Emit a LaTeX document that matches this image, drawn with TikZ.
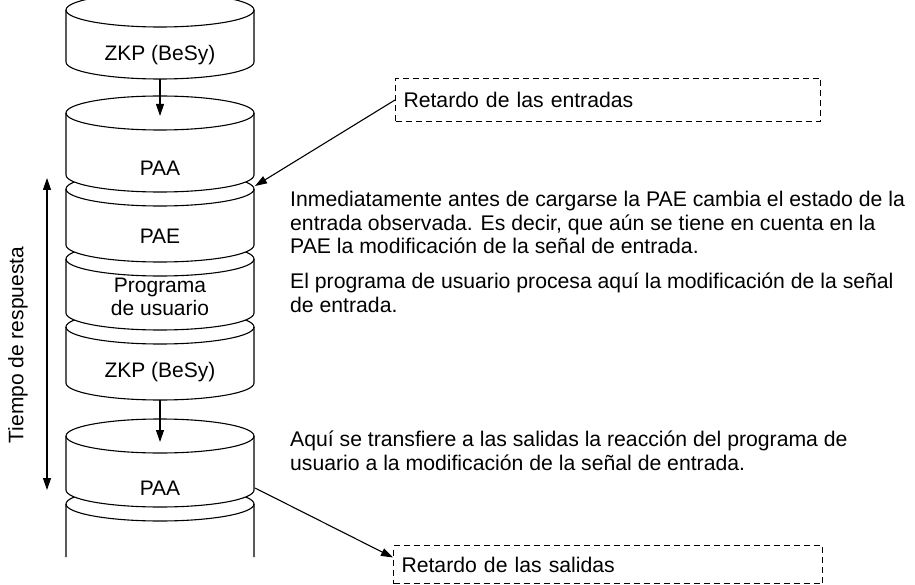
\documentclass[tikz,border=0pt]{standalone}
\usepackage{fontspec}
\setmainfont{Liberation Sans}
\usetikzlibrary{arrows.meta}

\begin{document}
\begin{tikzpicture}[x=1pt, y=1pt,
    drum/.style={draw, fill=white, line width=1.1pt, x radius=94pt, y radius=17pt},
    rim/.style={draw, line width=1.1pt, x radius=94pt, y radius=17pt},
    lbl/.style={font=\fontsize{21}{23}\selectfont, align=center, inner sep=0pt},
    para/.style={font=\fontsize{21.2}{23.5}\selectfont, align=left, inner sep=0pt, anchor=north west},
    dbox/.style={draw, dash pattern=on 6pt off 4pt, line width=1pt, anchor=north west, font=\fontsize{21.2}{24}\selectfont, align=left, inner xsep=8pt},
    arr/.style={-{Triangle[length=12pt, width=8pt]}, line width=1.1pt}
]
\useasboundingbox (0,0) rectangle (915,-585);

% stack, from the bottom up so each drum hides the one below it
\draw[drum] (66,-557) -- (66,-504) arc[start angle=180, end angle=0] -- (254,-557);
\draw[rim] (66,-504) arc[start angle=180, end angle=360];
\foreach \t/\b in {436/490, 327/383, 259/313, 189/245, 113/175, 10/62} {
  \draw[drum] (66,-\b) arc[start angle=180, end angle=360] -- (254,-\t) arc[start angle=0, end angle=180] -- cycle;
  \draw[rim] (66,-\t) arc[start angle=180, end angle=360];
}

\node[lbl] (zkp1) at (160,-55) {ZKP (BeSy)};
\node[lbl] (paa1) at (160,-168) {PAA};
\node[lbl] (pae) at (160,-236) {PAE};
\node[lbl] (prog) at (160,-297) {Programa\\de usuario};
\node[lbl] (zkp2) at (160,-372) {ZKP (BeSy)};
\node[lbl] (paa2) at (160,-488) {PAA};

\coordinate (zkp1bot) at (160,-79);
\coordinate (paa1top) at (160,-116);
\coordinate (zkp2bot) at (160,-400);
\coordinate (paa2top) at (160,-442);
\coordinate (in1) at (255,-186);
\coordinate (out1) at (255,-488);
\coordinate (tstart) at (47,-178);
\coordinate (tend) at (47,-490);

\node[lbl, rotate=90] (tresp) at (18,-345) {Tiempo de respuesta};

\node[dbox, minimum width=425pt, minimum height=43pt, text width=409pt] (box1) at (395,-78) {Retardo de las entradas};
\node[dbox, minimum width=429pt, minimum height=38pt, text width=413pt] (box2) at (393,-545) {Retardo de las salidas};

\node[para] (txt1) at (290,-191) {Inmediatamente antes de cargarse la PAE cambia el estado de la\\entrada observada. Es decir, que aún se tiene en cuenta en la\\PAE la modificación de la señal de entrada.};
\node[para] (txt2) at (290,-273) {El programa de usuario procesa aquí la modificación de la señal\\de entrada.};
\node[para] (txt3) at (290,-431) {Aquí se transfiere a las salidas la reacción del programa de\\usuario a la modificación de la señal de entrada.};

\draw[arr] (zkp1bot) -- (paa1top);
\draw[arr] (zkp2bot) -- (paa2top);
\draw[{Triangle[length=12pt, width=8pt]}-{Triangle[length=12pt, width=8pt]}, line width=1.1pt] (tstart) -- (tend);
\draw[arr] (box1.west) -- (in1);
\draw[arr] (out1) -- ([yshift=7pt]box2.west);
\end{tikzpicture}
\end{document}
